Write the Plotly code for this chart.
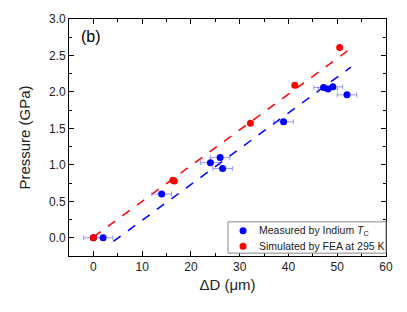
import plotly.graph_objects as go

meas_x = [0, 2, 14, 24, 26, 26.5, 39, 47.2, 48.1, 49.1, 52]
meas_y = [0, 0, 0.60, 1.03, 1.10, 0.95, 1.59, 2.06, 2.04, 2.07, 1.96]
meas_xerr = [2, 2, 2, 2, 2, 2, 2, 2, 2, 2, 2]

sim_x = [0, 16.3, 16.6, 32.2, 41.3, 50.5]
sim_y = [0, 0.79, 0.78, 1.57, 2.09, 2.61]

fit_meas_x = [4.1, 52.8]
fit_meas_y = [-0.05, 2.34]
fit_sim_x = [0, 53.5]
fit_sim_y = [0.01, 2.63]

x_ticks = [0, 10, 20, 30, 40, 50, 60]
y_ticks = [0.0, 0.5, 1.0, 1.5, 2.0, 2.5, 3.0]

legend_labels = ["Measured by Indium <i>T</i><sub>C</sub>", "Simulated by FEA at 295 K"]
legend_colors = ["blue", "red"]

fig = go.Figure()
fig.add_trace(go.Scatter(x=fit_sim_x, y=fit_sim_y, mode="lines",
                         line=dict(color="red", dash="dash", width=1.5),
                         showlegend=False, hoverinfo="skip"))
fig.add_trace(go.Scatter(x=fit_meas_x, y=fit_meas_y, mode="lines",
                         line=dict(color="blue", dash="dash", width=1.5),
                         showlegend=False, hoverinfo="skip"))
fig.add_trace(go.Scatter(x=meas_x, y=meas_y, mode="markers",
                         marker=dict(color="blue", size=7),
                         error_x=dict(type="data", array=meas_xerr, color="rgba(90,90,255,0.6)",
                                      thickness=1, width=2.5),
                         name=legend_labels[0], showlegend=False))
fig.add_trace(go.Scatter(x=sim_x, y=sim_y, mode="markers",
                         marker=dict(color="red", size=7),
                         name=legend_labels[1], showlegend=False))

axis_common = dict(showline=True, linecolor="black", linewidth=1, mirror="ticks",
                   ticks="inside", ticklen=5, tickcolor="black", showgrid=False,
                   zeroline=False, tickfont=dict(size=12, color="#222"),
                   minor=dict(ticks="inside", ticklen=3, tickcolor="black"))

fig.update_xaxes(range=[-5, 60], tickvals=x_ticks, ticktext=[str(v) for v in x_ticks],
                 title=dict(text="ΔD (μm)", font=dict(size=15, color="#222"), standoff=6),
                 minor_dtick=5, **axis_common)
fig.update_yaxes(range=[-0.25, 3.0], tickvals=y_ticks, ticktext=[f"{v:.1f}" for v in y_ticks],
                 title=dict(text="Pressure (GPa)", font=dict(size=15, color="#222"), standoff=14),
                 minor_dtick=0.25, **axis_common)

fig.add_annotation(x=0.03, y=0.97, xref="paper", yref="paper", text="(b)",
                   showarrow=False, xanchor="left", yanchor="top",
                   font=dict(size=16, color="black"))

# Legend box (drawn manually to match the compact reference legend)
fig.add_shape(type="rect", xref="paper", yref="paper", x0=0.5016, x1=1.0, y0=0.012, y1=0.144,
              line=dict(color="#888", width=1), fillcolor="white", layer="above")
legend_rows_y = [0.107, 0.041]
for lab, col, yy in zip(legend_labels, legend_colors, legend_rows_y):
    fig.add_shape(type="circle", xref="paper", yref="paper", xsizemode="pixel", ysizemode="pixel",
                  xanchor=0.549, yanchor=yy, x0=-3.5, x1=3.5, y0=-3.5, y1=3.5,
                  fillcolor=col, line=dict(color=col, width=0), layer="above")
    fig.add_annotation(x=0.593, y=yy, xref="paper", yref="paper", text=lab, showarrow=False,
                       xanchor="left", yanchor="middle", font=dict(size=10.5, color="#222"))

fig.update_layout(
    width=407, height=312,
    margin=dict(l=69, r=21, t=13, b=56),
    plot_bgcolor="white", paper_bgcolor="white",
    font=dict(family="Liberation Sans, Arial, sans-serif", color="#222"),
    showlegend=False,
)

fig.write_html("out.html", config={"displayModeBar": False},
               post_script="document.body.style.margin='0';")
